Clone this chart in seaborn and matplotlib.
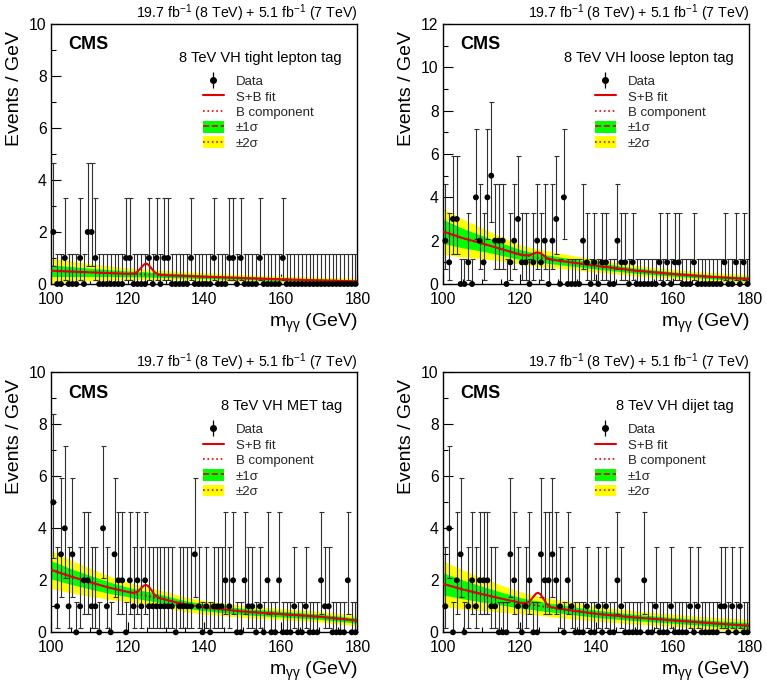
import numpy as np
import pandas as pd
import matplotlib
matplotlib.use("Agg")
import matplotlib.pyplot as plt
from matplotlib.lines import Line2D
from matplotlib.patches import Patch
from matplotlib.legend_handler import HandlerTuple
from matplotlib.ticker import MultipleLocator
import seaborn as sns

# ---------------- data ----------------
bin_centres = np.arange(100.5, 180.5, 1.0)

counts_tight = [2,0,0,1,0,0,0,1,0,2, 2,1,0,0,0,0,0,0,0,1, 1,0,0,0,0,1,0,1,0,1,
                1,0,0,0,0,0,1,0,0,0, 0,0,1,0,0,0,1,1,0,1, 0,0,0,0,1,0,0,0,0,0,
                1,0,0,0,0,0,0,0,0,0, 0,0,0,0,0,0,0,0,0,0]
counts_loose = [2,1,3,3,0,0,1,0,4,2, 1,4,5,2,2,2,0,1,2,3, 1,1,0,1,2,1,2,0,2,3,
                0,4,0,0,0,0,2,1,0,1, 0,1,1,0,0,2,1,1,0,1, 0,0,0,0,0,0,1,0,1,0,
                1,1,0,0,0,1,0,0,0,0, 0,0,0,1,0,0,1,0,1,0]
counts_met = [5,1,3,4,1,3,0,1,2,2, 1,1,0,4,1,0,3,2,2,0, 2,1,2,1,2,1,1,1,1,1,
              1,1,0,1,1,1,1,3,1,0, 1,0,1,1,1,2,1,2,0,0, 2,1,1,0,1,0,2,0,0,2,
              0,0,0,1,0,0,1,0,0,0, 2,1,1,0,0,0,0,2,0,0]
counts_dijet = [1,4,0,2,3,0,1,2,1,2, 2,2,1,1,0,0,0,3,2,1, 0,1,2,0,0,3,2,2,3,2,
                1,0,2,1,0,0,0,1,0,0, 1,0,1,0,0,2,1,0,0,0, 0,0,2,0,0,1,0,0,0,1,
                0,0,0,0,1,0,1,0,0,0, 0,0,1,1,0,1,0,1,0,0]

# Poisson (Garwood) error table for n = 0..5 events
err_down = [0.0, 0.827, 1.292, 1.633, 1.914, 2.160]
err_up = [1.15, 2.300, 2.638, 2.918, 3.163, 3.382]

curve_mass = [100, 105, 110, 115, 120, 121.5, 122.5, 123.5, 124.2, 124.8, 125.4,
              126.1, 127, 128, 130, 135, 140, 150, 160, 170, 180]

bkg_tight = [0.51,0.48,0.45,0.42,0.39,0.385,0.38,0.375,0.37,0.365,0.36,0.355,0.35,0.345,0.335,0.31,0.28,0.23,0.18,0.14,0.10]
sb_tight = [0.51,0.48,0.45,0.42,0.39,0.40,0.47,0.63,0.75,0.785,0.74,0.61,0.45,0.365,0.335,0.31,0.28,0.23,0.18,0.14,0.10]
s1_tight = [0.22,0.19,0.16,0.13,0.11,0.105,0.10,0.10,0.10,0.10,0.095,0.095,0.09,0.09,0.085,0.08,0.07,0.06,0.055,0.055,0.06]
s2_tight = [0.48,0.40,0.33,0.27,0.23,0.22,0.21,0.21,0.20,0.20,0.20,0.19,0.19,0.18,0.18,0.16,0.15,0.13,0.12,0.12,0.12]

bkg_loose = [2.42,2.12,1.88,1.62,1.36,1.31,1.28,1.25,1.23,1.21,1.20,1.18,1.15,1.13,1.08,0.96,0.84,0.62,0.46,0.33,0.23]
sb_loose = [2.42,2.12,1.88,1.62,1.36,1.32,1.33,1.40,1.45,1.45,1.42,1.33,1.21,1.14,1.08,0.96,0.84,0.62,0.46,0.33,0.23]
s1_loose = [0.55,0.45,0.36,0.29,0.23,0.22,0.21,0.21,0.20,0.20,0.20,0.19,0.19,0.19,0.18,0.16,0.15,0.12,0.10,0.09,0.10]
s2_loose = [1.05,0.88,0.71,0.56,0.45,0.43,0.42,0.41,0.40,0.40,0.39,0.38,0.38,0.37,0.35,0.32,0.29,0.24,0.20,0.19,0.20]

bkg_met = [2.40,2.15,1.93,1.72,1.55,1.50,1.47,1.44,1.42,1.40,1.39,1.37,1.34,1.31,1.25,1.07,0.96,0.80,0.70,0.60,0.45]
sb_met = [2.40,2.15,1.93,1.72,1.55,1.52,1.56,1.70,1.80,1.82,1.77,1.63,1.44,1.33,1.25,1.07,0.96,0.80,0.70,0.60,0.45]
s1_met = [0.35,0.30,0.26,0.22,0.18,0.18,0.17,0.17,0.17,0.17,0.17,0.17,0.16,0.16,0.15,0.14,0.13,0.12,0.11,0.10,0.10]
s2_met = [0.72,0.63,0.54,0.45,0.37,0.36,0.35,0.35,0.34,0.34,0.34,0.33,0.33,0.32,0.31,0.28,0.26,0.23,0.21,0.20,0.20]

bkg_dijet = [1.86,1.65,1.47,1.30,1.14,1.10,1.08,1.05,1.04,1.02,1.01,0.99,0.97,0.95,0.91,0.81,0.71,0.57,0.46,0.35,0.25]
sb_dijet = [1.86,1.65,1.47,1.30,1.14,1.12,1.18,1.36,1.49,1.52,1.46,1.30,1.09,0.98,0.91,0.81,0.71,0.57,0.46,0.35,0.25]
s1_dijet = [0.42,0.36,0.30,0.25,0.20,0.19,0.19,0.18,0.18,0.18,0.18,0.17,0.17,0.17,0.16,0.15,0.14,0.12,0.11,0.11,0.12]
s2_dijet = [0.88,0.75,0.63,0.52,0.42,0.40,0.39,0.38,0.37,0.37,0.36,0.36,0.35,0.35,0.34,0.31,0.28,0.25,0.23,0.23,0.25]

category_labels = ["8 TeV VH tight lepton tag", "8 TeV VH loose lepton tag",
                   "8 TeV VH MET tag", "8 TeV VH dijet tag"]
y_maxima = [10, 12, 10, 10]
lumi_text = r"19.7 fb$^{-1}$ (8 TeV) + 5.1 fb$^{-1}$ (7 TeV)"
legend_labels = ["Data", "S+B fit", "B component", "±1σ", "±2σ"]

# ---------------- style ----------------
sns.set_theme(style="ticks")
plt.rcParams["font.family"] = ["Liberation Sans", "DejaVu Sans"]
plt.rcParams["mathtext.fontset"] = "custom"
plt.rcParams["mathtext.rm"] = "Liberation Sans"
plt.rcParams["mathtext.it"] = "Liberation Sans"
plt.rcParams["mathtext.sf"] = "Liberation Sans"

RED = "#e00000"
GREEN = "#00ff00"
YELLOW = "#ffff00"

W, H = 767, 686
fig = plt.figure(figsize=(W / 100, H / 100), dpi=100)

ax_w = 306 / W
ax_h = 260 / H
positions = [
    (51.4 / W, 1 - 284 / H),
    (443.4 / W, 1 - 284 / H),
    (51.4 / W, 1 - 632.3 / H),
    (443.4 / W, 1 - 632.3 / H),
]

panels = [
    (counts_tight, bkg_tight, sb_tight, s1_tight, s2_tight),
    (counts_loose, bkg_loose, sb_loose, s1_loose, s2_loose),
    (counts_met, bkg_met, sb_met, s1_met, s2_met),
    (counts_dijet, bkg_dijet, sb_dijet, s1_dijet, s2_dijet),
]

cm = np.array(curve_mass)
for k, (counts, bkg, sb, s1, s2) in enumerate(panels):
    ax = fig.add_axes([positions[k][0], positions[k][1], ax_w, ax_h])
    bkg = np.array(bkg); sb = np.array(sb); s1 = np.array(s1); s2 = np.array(s2)
    cnt = np.array(counts)

    ax.fill_between(cm, bkg - s2, bkg + s2, color=YELLOW, lw=0, zorder=1)
    ax.fill_between(cm, bkg - s1, bkg + s1, color=GREEN, lw=0, zorder=1.1)

    lo = np.array([err_down[n] for n in cnt])
    hi = np.array([err_up[n] for n in cnt])
    ax.errorbar(bin_centres, cnt, yerr=[lo, hi], fmt="none", ecolor="#303030",
                elinewidth=0.8, capsize=1.8, capthick=0.8, zorder=2)

    df_b = pd.DataFrame({"m": cm, "v": bkg})
    df_sb = pd.DataFrame({"m": cm, "v": sb})
    sns.lineplot(data=df_b, x="m", y="v", ax=ax, color=RED, lw=1.2,
                 linestyle=":", estimator=None, sort=False, zorder=3)
    sns.lineplot(data=df_sb, x="m", y="v", ax=ax, color=RED, lw=1.5,
                 estimator=None, sort=False, zorder=3.1)

    df_d = pd.DataFrame({"m": bin_centres, "n": cnt})
    sns.scatterplot(data=df_d, x="m", y="n", ax=ax, color="black", s=18,
                    edgecolor="none", zorder=4, clip_on=False)

    ax.set_xlim(100, 180)
    ax.set_ylim(0, y_maxima[k])
    ax.xaxis.set_major_locator(MultipleLocator(20))
    ax.xaxis.set_minor_locator(MultipleLocator(5))
    ax.yaxis.set_major_locator(MultipleLocator(2))
    ax.yaxis.set_minor_locator(MultipleLocator(1))
    ax.tick_params(which="both", direction="in", top=False, right=False,
                   labelsize=11.3, width=0.8, color="black", labelcolor="black")
    ax.tick_params(axis="x", which="major", length=7, pad=5.5)
    ax.tick_params(axis="y", which="major", length=7, pad=3.5)
    ax.tick_params(which="minor", length=3.5)
    ax.set_xlabel("")
    ax.set_ylabel("")
    for sp in ax.spines.values():
        sp.set_visible(True)
        sp.set_color("black")
        sp.set_linewidth(1.0)

    ax.text(1.0, 1.022, lumi_text, transform=ax.transAxes, ha="right",
            va="baseline", fontsize=10.2, color="black")
    ax.text(0.054, 0.92, "CMS", transform=ax.transAxes, ha="left",
            va="center", fontsize=13, fontweight="bold", color="black")
    ax.text(0.95, 0.87, category_labels[k], transform=ax.transAxes,
            ha="right", va="center", fontsize=10.5, color="black")
    ax.text(-0.12, 0.975, "Events / GeV", transform=ax.transAxes,
            rotation=90, ha="center", va="top", fontsize=14, color="black")
    ax.text(1.0, -0.152, r"m$_{\gamma\gamma}$ (GeV)", transform=ax.transAxes,
            ha="right", va="center", fontsize=14, color="black")

    h_data = (Line2D([], [], marker="|", markersize=11, color="black",
                     linestyle="none", markeredgewidth=0.9),
              Line2D([], [], marker="o", markersize=4, color="black",
                     linestyle="none"))
    h_sb = Line2D([], [], color=RED, lw=1.5)
    h_b = Line2D([], [], color=RED, lw=1.2, linestyle=":")
    h_1s = (Patch(facecolor=GREEN, edgecolor="none"),
            Line2D([], [], color=RED, lw=1.2, linestyle="--"))
    h_2s = (Patch(facecolor=YELLOW, edgecolor="none"),
            Line2D([], [], color=RED, lw=1.2, linestyle=":"))
    ax.legend([h_data, h_sb, h_b, h_1s, h_2s], legend_labels,
              handler_map={tuple: HandlerTuple(ndivide=1, pad=0)},
              loc="upper left", bbox_to_anchor=(0.495, 0.805), frameon=False,
              fontsize=9.5, handlelength=1.6, handleheight=1.0,
              handletextpad=0.9, labelspacing=0.15, borderpad=0,
              borderaxespad=0)

fig.savefig("out.png", dpi=100, facecolor="white")
